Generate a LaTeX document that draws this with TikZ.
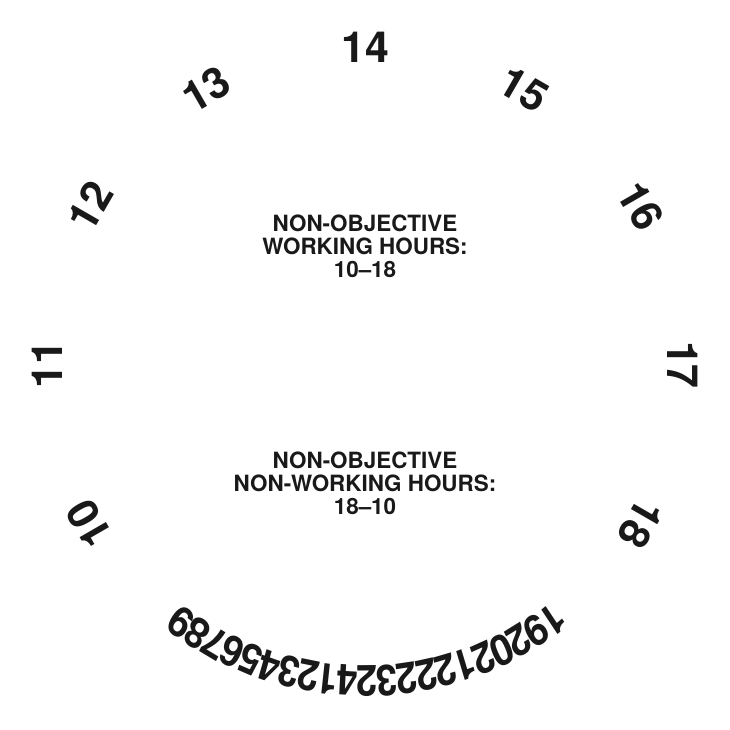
\documentclass[tikz,border=0pt]{standalone}
\usepackage{fontspec}
\setmainfont{TeX Gyre Heros}
\usetikzlibrary{calc}
\begin{document}
\begin{tikzpicture}[x=1bp,y=1bp,
  hour/.style={font=\fontsize{43}{43}\selectfont\bfseries, inner sep=0pt, text=black!90},
  squeezed/.style={hour, xscale=0.9},
  label/.style={font=\fontsize{22.5}{23}\selectfont\bfseries, inner sep=0pt, align=center, text=black!90}]
\useasboundingbox (0,0) rectangle (730,730);
\coordinate (c) at (365,365);
\foreach \h [count=\i from 0] in {10,11,12,13,14,15,16,17,18} {
  \pgfmathsetmacro\ang{210-30*\i}
  \pgfmathsetmacro\rot{\ang-90}
  \node[hour, rotate=\rot] (h\h) at ($(c)+(\ang:318)$) {\h};
}
\foreach \d [count=\i from 0] in {1,9,2,0,2,1,2,2,2,3,2,4,1,2,3,4,5,6,7,8,9} {
  \pgfmathsetmacro\ang{-53.6-3.6*\i}
  \pgfmathsetmacro\rot{\ang-90}
  \node[squeezed, rotate=\rot] (b\i) at ($(c)+(\ang:316)$) {\d};
}
\node[label] (work) at (365,484) {NON-OBJECTIVE\\WORKING HOURS:\\10–18};
\node[label] (nonwork) at (365,247) {NON-OBJECTIVE\\NON-WORKING HOURS:\\18–10};
\end{tikzpicture}
\end{document}
